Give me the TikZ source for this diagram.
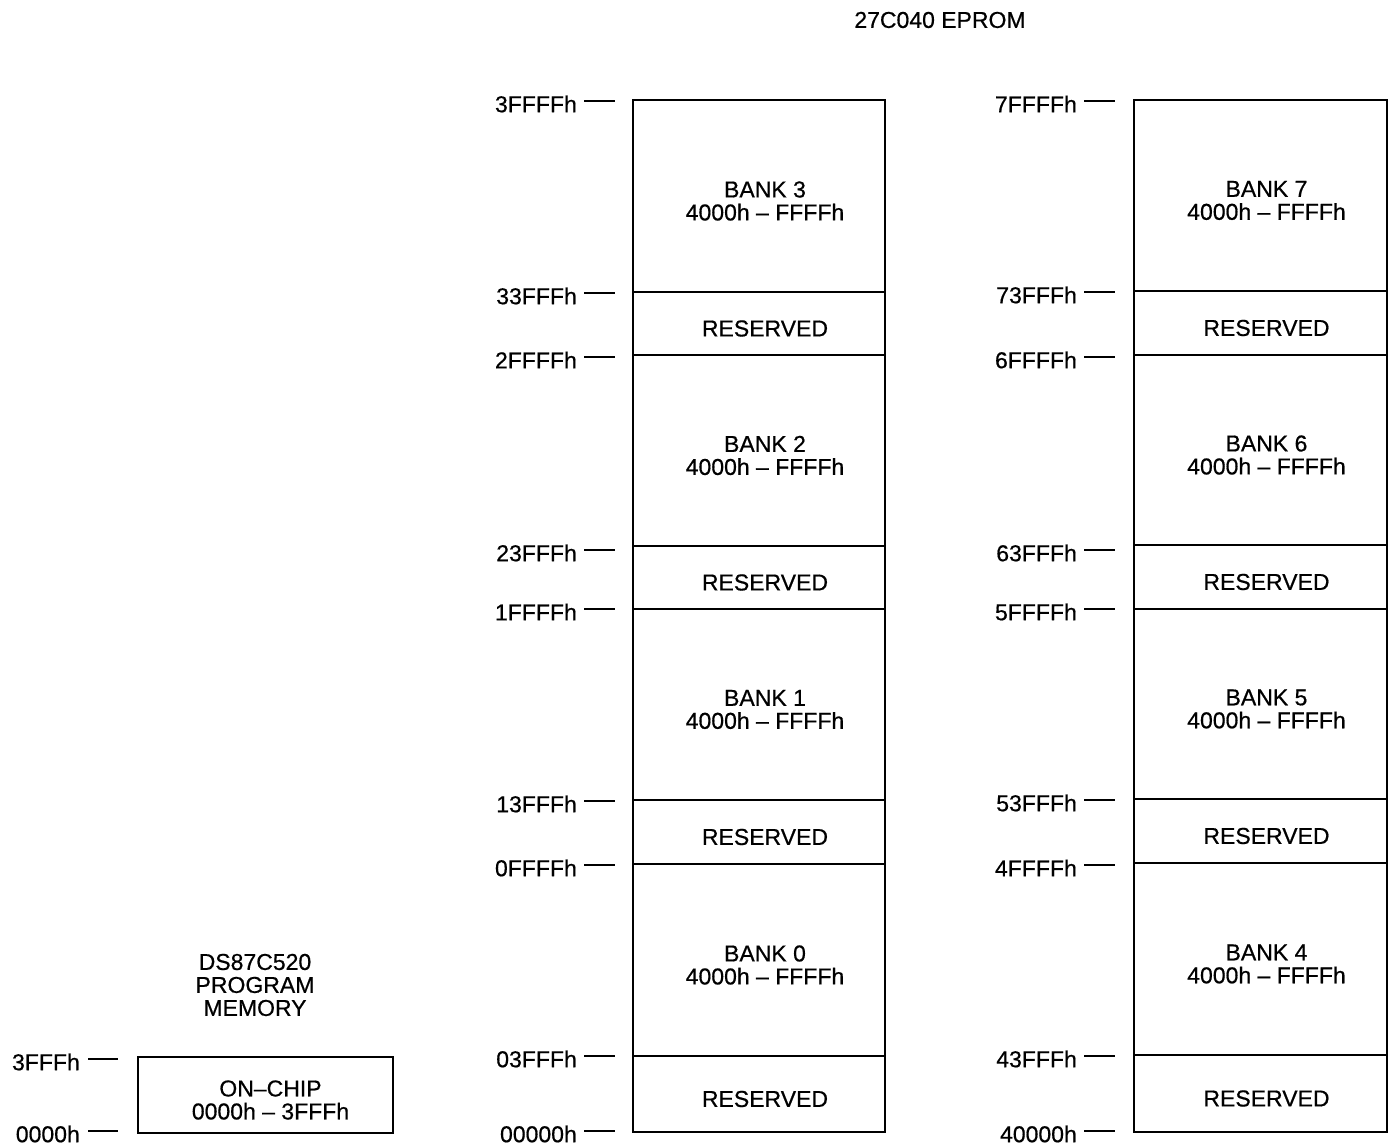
\documentclass[tikz,border=0pt]{standalone}
\usepackage{fontspec}
\setmainfont{Liberation Sans}[BoldFont=Liberation Sans,BoldFeatures={FakeBold=0.6}]
\begin{document}
\begin{tikzpicture}[x=1pt,y=-1pt,
  txt/.style={font=\fontsize{23}{23}\bfseries},
  seg/.style={draw,line width=2.2pt,inner sep=0pt},
  lseg/.style={seg,minimum width=252pt},
  rseg/.style={seg,minimum width=253pt},
  segtext/.style={txt,align=center,inner sep=0pt,xshift=6pt,yshift=-5pt},
  addr/.style={anchor=east,inner sep=0pt,txt},
  tick/.style={line width=1.6pt}]
\useasboundingbox (0,0) rectangle (1389,1145);

% titles
\node[txt] (eprom) at (940,20) {27C040 EPROM};
\node[txt,align=center] (ds) at (255,985) {DS87C520\\PROGRAM\\MEMORY};

% left column
\node[lseg,minimum height=192pt] (L7) at (759,196) {};
\node[lseg,minimum height=63pt]  (L6) at (759,323.5) {};
\node[lseg,minimum height=191pt] (L5) at (759,450.5) {};
\node[lseg,minimum height=63pt]  (L4) at (759,577.5) {};
\node[lseg,minimum height=191pt] (L3) at (759,704.5) {};
\node[lseg,minimum height=64pt]  (L2) at (759,832) {};
\node[lseg,minimum height=192pt] (L1) at (759,960) {};
\node[lseg,minimum height=76pt]  (L0) at (759,1094) {};

% right column
\node[rseg,minimum height=191pt] (R7) at (1260.5,195.5) {};
\node[rseg,minimum height=64pt]  (R6) at (1260.5,323) {};
\node[rseg,minimum height=190pt] (R5) at (1260.5,450) {};
\node[rseg,minimum height=64pt]  (R4) at (1260.5,577) {};
\node[rseg,minimum height=190pt] (R3) at (1260.5,704) {};
\node[rseg,minimum height=64pt]  (R2) at (1260.5,831) {};
\node[rseg,minimum height=192pt] (R1) at (1260.5,959) {};
\node[rseg,minimum height=77pt]  (R0) at (1260.5,1093.5) {};

% segment texts
\foreach \s/\t in {L7/{BANK 3\\4000h -- FFFFh}, L5/{BANK 2\\4000h -- FFFFh},
  L3/{BANK 1\\4000h -- FFFFh}, L1/{BANK 0\\4000h -- FFFFh},
  R7/{BANK 7\\4000h -- FFFFh}, R5/{BANK 6\\4000h -- FFFFh},
  R3/{BANK 5\\4000h -- FFFFh}, R1/{BANK 4\\4000h -- FFFFh},
  L6/RESERVED, L4/RESERVED, L2/RESERVED, L0/RESERVED,
  R6/RESERVED, R4/RESERVED, R2/RESERVED, R0/RESERVED}{
  \node[segtext] (\s t) at (\s.center) {\t};
}

% on-chip box
\node[seg,minimum width=255pt,minimum height=76pt] (oc) at (265.5,1095) {};
\node[segtext,xshift=-1pt] (oct) at (oc.center) {ON--CHIP\\0000h -- 3FFFh};

% left addresses
\foreach \nm/\yy/\t in {la8/104/3FFFFh, la7/296/33FFFh, la6/360/2FFFFh, la5/553/23FFFh,
  la4/612/1FFFFh, la3/804/13FFFh, la2/868/0FFFFh, la1/1059/03FFFh, la0/1134/00000h}{
  \node[addr] (\nm) at (577,\yy) {\t};
  \draw[tick] ([xshift=7pt,yshift=3pt]\nm.east) -- ++(31,0);
}
% right addresses
\foreach \nm/\yy/\t in {ra8/104/7FFFFh, ra7/295/73FFFh, ra6/360/6FFFFh, ra5/553/63FFFh,
  ra4/612/5FFFFh, ra3/803/53FFFh, ra2/868/4FFFFh, ra1/1059/43FFFh, ra0/1134/40000h}{
  \node[addr] (\nm) at (1077,\yy) {\t};
  \draw[tick] ([xshift=7pt,yshift=3pt]\nm.east) -- ++(31,0);
}
% on-chip addresses
\node[addr] (oa1) at (80,1062) {3FFFh};
\draw[tick] ([xshift=8pt,yshift=3pt]oa1.east) -- ++(30,0);
\node[addr] (oa0) at (80,1134) {0000h};
\draw[tick] ([xshift=8pt,yshift=3pt]oa0.east) -- ++(30,0);
\end{tikzpicture}
\end{document}
